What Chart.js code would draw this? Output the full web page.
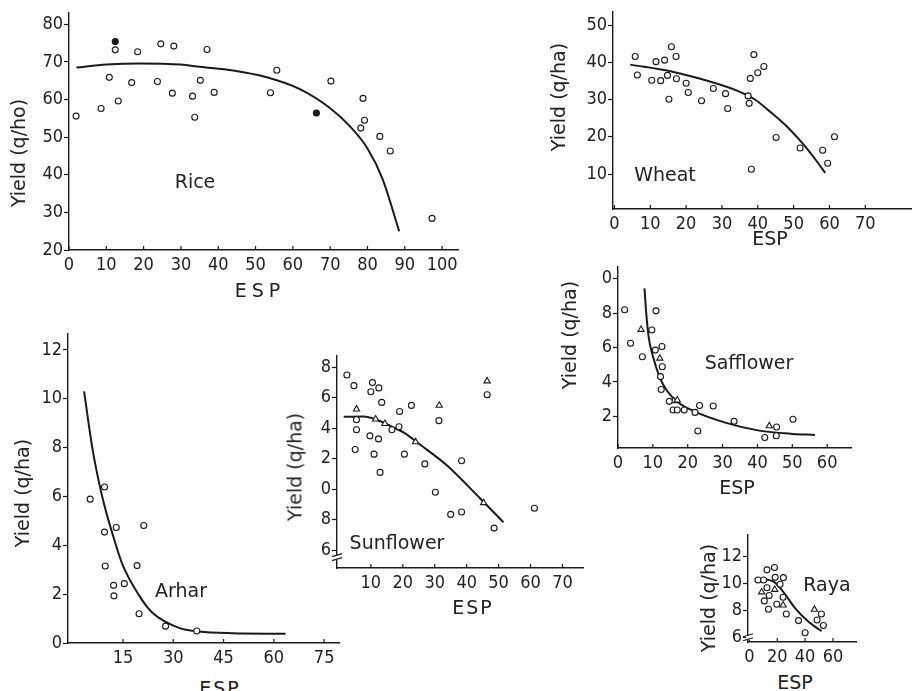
<!DOCTYPE html>
<html lang="en">
<head>
<meta charset="UTF-8">
<title>Yield vs ESP</title>
<script src="https://cdn.jsdelivr.net/npm/chart.js"></script>
<style>
  body { margin: 0; background: #fff; }
  #page { position: relative; width: 917px; height: 691px; overflow: hidden; background: #fff; }
  #page canvas { position: absolute; }
  .t { position: absolute; font-family: 'DejaVu Sans', sans-serif; font-size: 19px; color: #222;
       white-space: nowrap; transform: translate(-50%, -50%); line-height: 1; }
  .v { transform: translate(-50%, -50%) rotate(-90deg); }
  .esp { letter-spacing: 2px; }
</style>
</head>
<body>
<div id="page">
  <canvas id="rice" width="464" height="280" style="left:0px;top:0px;width:464px;height:280px"></canvas>
  <canvas id="wheat" width="364" height="239" style="left:553px;top:0px;width:364px;height:239px"></canvas>
  <canvas id="arhar" width="337" height="351" style="left:8px;top:322px;width:337px;height:351px"></canvas>
  <canvas id="sunflower" width="292" height="256" style="left:297px;top:344px;width:292px;height:256px"></canvas>
  <canvas id="safflower" width="279" height="223" style="left:578px;top:255px;width:279px;height:223px"></canvas>
  <canvas id="raya" width="144" height="147" style="left:718px;top:523px;width:144px;height:147px"></canvas>

  <!-- axis titles and crop names -->
  <div class="t v" style="left:18px;top:153px">Yield (q/ho)</div>
  <div class="t esp" style="left:260px;top:290px;letter-spacing:5px">ESP</div>
  <div class="t" style="left:195px;top:181px">Rice</div>

  <div class="t v" style="left:558px;top:97px">Yield (q/ha)</div>
  <div class="t" style="left:770px;top:238px">ESP</div>
  <div class="t" style="left:665px;top:174px">Wheat</div>

  <div class="t v" style="left:22px;top:493px">Yield (q/ha)</div>
  <div class="t esp" style="left:220px;top:688px">ESP</div>
  <div class="t" style="left:181px;top:590px">Arhar</div>

  <div class="t v" style="left:295px;top:467px">Yield (q/ha)</div>
  <div class="t esp" style="left:473px;top:607px">ESP</div>
  <div class="t" style="left:397px;top:542px">Sunflower</div>

  <div class="t v" style="left:569px;top:335px">Yield (q/ha)</div>
  <div class="t" style="left:737px;top:487px">ESP</div>
  <div class="t" style="left:749px;top:362px">Safflower</div>

  <div class="t v" style="left:708px;top:598px">Yield (q/ha)</div>
  <div class="t" style="left:795px;top:682px">ESP</div>
  <div class="t" style="left:827px;top:584px">Raya</div>
</div>

<script>
// ---- Rice ----
const riceX = [1.9, 8.6, 10.8, 12.4, 13.2, 16.8, 18.4, 23.7, 24.6, 27.7, 28.1, 33.1, 33.7, 35.2, 37.0, 38.9, 54.0, 55.7, 70.2, 78.2, 78.8, 79.2, 83.3, 86.1, 97.3];
const riceY = [55.6, 57.6, 65.9, 73.2, 59.6, 64.5, 72.7, 64.8, 74.8, 61.7, 74.2, 60.9, 55.3, 65.1, 73.3, 61.9, 61.8, 67.8, 64.9, 52.4, 60.3, 54.5, 50.2, 46.3, 28.4];
const riceDotX = [12.4, 66.3];
const riceDotY = [75.4, 56.4];
const riceFitX = [2, 10, 19, 30, 35, 44, 53, 62, 70, 75, 80, 84, 88.5];
const riceFitY = [68.5, 69.3, 69.6, 69.3, 68.7, 67.7, 65.9, 62.7, 57.7, 53.2, 47, 39, 25];
const riceXTicks = [0, 10, 20, 30, 40, 50, 60, 70, 80, 90, 100];
const riceYTicks = [20, 30, 40, 50, 60, 70, 80];

// ---- Wheat ----
const wheatX = [5.8, 6.4, 10.4, 11.6, 12.9, 14.0, 14.8, 15.2, 15.9, 17.2, 17.3, 20.0, 20.6, 24.3, 27.6, 31.0, 31.6, 37.3, 37.6, 37.9, 38.2, 38.9, 40.0, 41.7, 45.1, 51.8, 58.1, 59.5, 61.4];
const wheatY = [41.6, 36.6, 35.2, 40.2, 35.1, 40.6, 36.5, 30.1, 44.2, 41.6, 35.6, 34.4, 31.9, 29.7, 33.0, 31.6, 27.6, 31.0, 29.0, 35.7, 11.3, 42.1, 37.2, 38.9, 19.8, 17.0, 16.4, 12.9, 20.0];
const wheatFitX = [4.4, 16.2, 25.4, 34.5, 39.1, 43.6, 48.2, 52.8, 56.4, 58.8];
const wheatFitY = [39.4, 37.5, 35.2, 32.3, 30.1, 26.6, 22.7, 17.9, 13.5, 10.3];
const wheatXTicks = [0, 10, 20, 30, 40, 50, 60, 70];
const wheatYTicks = [10, 20, 30, 40, 50];

// ---- Arhar ----
const arharX = [5.2, 9.5, 9.5, 9.7, 12.2, 12.3, 13.0, 15.4, 19.2, 19.8, 21.2, 27.7, 37.0];
const arharY = [5.89, 6.39, 4.54, 3.15, 2.36, 1.93, 4.73, 2.43, 3.17, 1.2, 4.81, 0.69, 0.49];
const arharFitX = [3.4, 5.9, 8.8, 11.8, 14.8, 19.8, 23.7, 31.7, 37.6, 47.6, 63.5];
const arharFitY = [10.3, 7.95, 6.0, 4.5, 3.23, 1.95, 1.25, 0.62, 0.47, 0.4, 0.38];
const arharXTicks = [15, 30, 45, 60, 75];
const arharYTicks = [0, 2, 4, 6, 8, 10, 12];

// ---- Sunflower ----
const sunX = [2.5, 4.7, 5.5, 5.5, 5.1, 10.5, 10.0, 9.7, 11.0, 12.5, 12.4, 13.4, 12.9, 16.6, 19.0, 18.8, 20.5, 22.7, 26.9, 30.2, 31.3, 35.0, 38.4, 38.4, 46.4, 48.6, 61.2];
const sunY = [17.5, 16.8, 14.56, 13.9, 12.6, 17.0, 16.4, 13.5, 12.3, 16.65, 13.3, 15.7, 11.1, 13.9, 15.1, 14.1, 12.3, 15.5, 11.66, 9.8, 14.5, 8.34, 11.87, 8.5, 16.2, 7.44, 8.75];
const sunTriX = [5.5, 11.5, 14.4, 24.0, 31.4, 45.3, 46.4];
const sunTriY = [15.25, 14.6, 14.3, 13.1, 15.5, 9.1, 17.1];
const sunFitX = [1.5, 7.7, 11.8, 17, 21.2, 24.3, 33.6, 44, 51.5];
const sunFitY = [14.75, 14.77, 14.56, 14.06, 13.6, 13.1, 11.6, 9.44, 7.83];
const sunXTicks = [10, 20, 30, 40, 50, 60, 70];
const sunYTicks = [6, 8, 10, 12, 14, 16, 18];

// ---- Safflower ----
const safX = [1.9, 3.6, 7.0, 9.7, 10.9, 10.7, 12.6, 12.7, 12.2, 12.4, 14.7, 15.8, 17.0, 19.0, 22.1, 22.9, 23.4, 27.3, 33.3, 42.1, 45.5, 45.4, 50.2];
const safY = [8.19, 6.25, 5.46, 7.02, 8.13, 5.85, 6.06, 4.88, 4.31, 3.56, 2.87, 2.37, 2.37, 2.37, 2.23, 1.15, 2.63, 2.6, 1.71, 0.77, 1.38, 0.87, 1.83];
const safTriX = [6.6, 12.0, 16.0, 17.0, 43.4];
const safTriY = [7.04, 5.37, 2.9, 2.94, 1.44];
const safFitX = [7.6, 8.1, 8.8, 10, 11.9, 14, 17, 21.4, 31, 40.5, 50, 56.5];
const safFitY = [9.44, 8.0, 6.6, 5.5, 4.3, 3.5, 2.85, 2.33, 1.62, 1.17, 0.98, 0.92];
const safXTicks = [0, 10, 20, 30, 40, 50, 60];
const safYTicks = [2, 4, 6, 8, 10];

// ---- Raya ----
const rayaX = [6.2, 10.2, 12.6, 12.6, 10.7, 14.2, 13.7, 18.0, 18.5, 19.7, 22.0, 24.4, 24.2, 26.5, 35.3, 40.0, 48.6, 51.7, 53.1];
const rayaY = [10.26, 10.26, 11.02, 9.68, 8.7, 9.1, 8.08, 11.2, 10.46, 8.45, 9.95, 10.44, 8.97, 7.72, 7.23, 6.32, 7.27, 7.72, 6.86];
const rayaTriX = [8.8, 18.2, 24.2, 46.7];
const rayaTriY = [9.36, 9.55, 8.38, 8.06];
const rayaFitX = [3.8, 16.8, 23.9, 33.4, 42.9, 51.9];
const rayaFitY = [10.36, 10.17, 9.43, 8.08, 7.1, 6.44];
const rayaXTicks = [0, 20, 40, 60];
const rayaYTicks = [6, 8, 10, 12];

const INK = '#1a1a1a';
const tickFont = { family: "'DejaVu Sans Condensed', 'DejaVu Sans', sans-serif", size: 18 };

function pts(xs, ys) { return xs.map((x, i) => ({ x: x, y: ys[i] })); }

function marks(xs, ys, style, fill) {
  return {
    data: pts(xs, ys), pointStyle: style, pointRadius: style === 'triangle' ? 3.6 : 3,
    pointBorderWidth: 1.1, pointBorderColor: INK, pointBackgroundColor: fill || '#fff',
    showLine: false, order: 1
  };
}

function fit(xs, ys) {
  return {
    data: pts(xs, ys), showLine: true, pointRadius: 0, borderColor: INK, borderWidth: 2,
    cubicInterpolationMode: 'monotone', fill: false, order: 2
  };
}

// small upward tick marks on the x axis and the axis break on y
const axisMarks = {
  id: 'axisMarks',
  afterDraw(chart, args, opts) {
    const { ctx, chartArea, scales } = chart;
    ctx.save();
    ctx.strokeStyle = INK;
    ctx.lineWidth = 1.2;
    scales.x.ticks.forEach(t => {
      const px = scales.x.getPixelForValue(t.value);
      ctx.beginPath();
      ctx.moveTo(px, chartArea.bottom);
      ctx.lineTo(px, chartArea.bottom - 4);
      ctx.stroke();
    });
    if (opts.breakAt != null) {
      const py = scales.y.getPixelForValue(opts.breakAt);
      const x = chartArea.left;
      ctx.fillStyle = '#fff';
      ctx.fillRect(x - 2, py - 2, 4, 4);
      ctx.beginPath();
      ctx.moveTo(x - 5, py - 1); ctx.lineTo(x + 5, py - 4);
      ctx.moveTo(x - 5, py + 3); ctx.lineTo(x + 5, py);
      ctx.stroke();
    }
    ctx.restore();
  }
};

function makeChart(id, o) {
  const fmt = o.lastDigit ? (v => String(v % 10)) : (v => String(v));
  return new Chart(document.getElementById(id), {
    type: 'scatter',
    data: { datasets: o.datasets },
    plugins: [axisMarks],
    options: {
      responsive: false,
      animation: false,
      layout: { padding: { top: o.padTop, right: o.padRight, left: 0, bottom: 0 } },
      plugins: {
        legend: { display: false },
        tooltip: { enabled: false },
        axisMarks: { breakAt: o.breakAt }
      },
      scales: {
        x: {
          type: 'linear', min: o.xMin, max: o.xMax,
          afterBuildTicks: s => { s.ticks = o.xTicks.map(v => ({ value: v })); },
          afterFit: s => { s.height = o.xH; },
          border: { display: true, color: INK, width: 1.4 },
          grid: { display: true, drawOnChartArea: false, drawTicks: false, color: INK },
          ticks: { padding: 5, color: '#222', font: tickFont, maxRotation: 0, autoSkip: false, callback: v => String(v) }
        },
        y: {
          type: 'linear', min: o.yMin, max: o.yMax,
          afterBuildTicks: s => { s.ticks = o.yTicks.map(v => ({ value: v })); },
          afterFit: s => { s.width = o.yW; },
          border: { display: true, color: INK, width: 1.4 },
          grid: { display: true, drawOnChartArea: false, drawTicks: true, tickLength: 5, tickWidth: 1.2, color: INK },
          ticks: { padding: 1, color: '#222', font: tickFont, autoSkip: false, callback: fmt }
        }
      }
    }
  });
}

makeChart('rice', {
  datasets: [marks(riceX, riceY, 'circle'), marks(riceDotX, riceDotY, 'circle', INK), fit(riceFitX, riceFitY)],
  xMin: 0, xMax: 104.5, yMin: 20, yMax: 83, xTicks: riceXTicks, yTicks: riceYTicks,
  yW: 69, xH: 30, padTop: 13, padRight: 4
});

makeChart('wheat', {
  datasets: [marks(wheatX, wheatY, 'circle'), fit(wheatFitX, wheatFitY)],
  xMin: -0.4, xMax: 83, yMin: 0.6, yMax: 53.6, xTicks: wheatXTicks, yTicks: wheatYTicks,
  yW: 60, xH: 30, padTop: 7, padRight: 0
});

makeChart('arhar', {
  datasets: [marks(arharX, arharY, 'circle'), fit(arharFitX, arharFitY)],
  xMin: -1.4, xMax: 79.7, yMin: 0, yMax: 12.66, xTicks: arharXTicks, yTicks: arharYTicks,
  yW: 60, xH: 30, padTop: 8, padRight: 2
});

makeChart('sunflower', {
  datasets: [marks(sunX, sunY, 'circle'), marks(sunTriX, sunTriY, 'triangle'), fit(sunFitX, sunFitY)],
  xMin: -0.6, xMax: 76.7, yMin: 4.82, yMax: 18.76, xTicks: sunXTicks, yTicks: sunYTicks,
  yW: 40, xH: 32, padTop: 8, padRight: 4, lastDigit: true, breakAt: 5.5
});

makeChart('safflower', {
  datasets: [marks(safX, safY, 'circle'), marks(safTriX, safTriY, 'triangle'), fit(safFitX, safFitY)],
  xMin: 0, xMax: 67.1, yMin: 0.16, yMax: 10.69, xTicks: safXTicks, yTicks: safYTicks,
  yW: 40, xH: 30, padTop: 10, padRight: 4, lastDigit: true
});

makeChart('raya', {
  datasets: [marks(rayaX, rayaY, 'circle'), marks(rayaTriX, rayaTriY, 'triangle'), fit(rayaFitX, rayaFitY)],
  xMin: -1.0, xMax: 77.2, yMin: 5.63, yMax: 13.64, xTicks: rayaXTicks, yTicks: rayaYTicks,
  yW: 30, xH: 28, padTop: 10, padRight: 4, breakAt: 5.95
});
</script>
</body>
</html>
